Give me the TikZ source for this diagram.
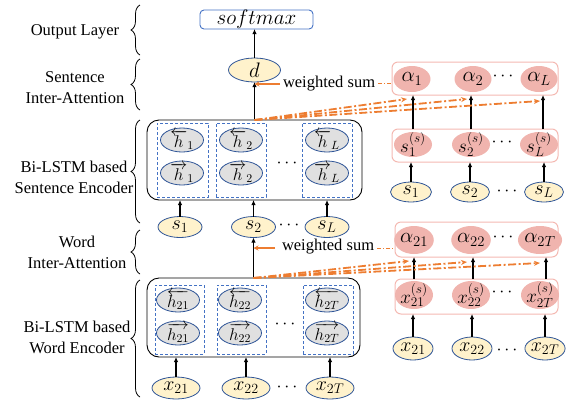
\RequirePackage{fix-cm}
\documentclass[tikz,border=0pt]{standalone}
\usepackage{fontspec}
\setmainfont{Liberation Serif}
\usetikzlibrary{shapes.geometric,arrows.meta,decorations.pathreplacing,calc}

\definecolor{edgeblue}{HTML}{2F5597}
\definecolor{boxblue}{HTML}{4472C4}
\definecolor{inputfill}{HTML}{FFF2CC}
\definecolor{hiddenfill}{HTML}{E0E0E0}
\definecolor{attfill}{HTML}{F0B4AE}
\definecolor{attline}{HTML}{F4B9B2}
\definecolor{attorange}{HTML}{ED7D31}

\begin{document}
\begin{tikzpicture}[x=1pt,y=-1pt,
  every node/.style={inner sep=0pt, outer sep=0pt},
  lbl/.style={align=center, font=\fontsize{16.5}{21}\selectfont},
  inp/.style={ellipse, draw=edgeblue, line width=0.8pt, fill=inputfill,
    minimum width=#1, minimum height=21pt, font=\fontsize{20}{20}\selectfont},
  inp/.default=44pt,
  % grey hidden-state ellipse of fixed size; its label is a separate node
  hid/.style={ellipse, draw=edgeblue, line width=0.8pt, fill=hiddenfill,
    minimum width=43pt, minimum height=24pt},
  hidlabel/.style={font=\fontsize{17}{17}\selectfont},
  att/.style={ellipse, fill=attfill, minimum width=37pt, minimum height=26pt,
    font=\fontsize{21}{21}\selectfont},
  % pink ellipse of fixed size whose (taller) label is laid on top
  attsup/.style={ellipse, fill=attfill, minimum width=38pt, minimum height=#1},
  suplabel/.style={font=\fontsize{19}{19}\selectfont},
  encbox/.style={draw=black, line width=0.9pt, rounded corners=12pt},
  colbox/.style={draw=boxblue, line width=0.8pt, dash pattern=on 3pt off 2pt},
  attbox/.style={draw=attline, line width=1pt, rounded corners=6pt},
  dotsnode/.style={font=\fontsize{18}{18}\selectfont},
  arr/.style={-{Latex[length=5pt,width=4.5pt]}, line width=1.3pt},
  fan/.style={attorange, line width=1.8pt,
    dash pattern=on 8pt off 2.5pt on 2pt off 2.5pt,
    -{Stealth[length=6pt,width=5pt]}},
  wsarr/.style={attorange, line width=1.8pt, -{Stealth[length=5pt,width=5pt]}},
  wsdash/.style={attorange, line width=0.8pt, dash pattern=on 4pt off 2pt on 1pt off 2pt},
  layerbrace/.style={decorate, decoration={brace, amplitude=9pt}, line width=0.8pt},
]
\useasboundingbox (0,0) rectangle (575,408);

% ---------- layer labels and braces ----------
\node[lbl] (l1) at (75,32) {Output Layer};
\node[lbl] (l2) at (75,88) {Sentence\\Inter-Attention};
\node[lbl] (l3) at (74,177) {Bi-LSTM based\\Sentence Encoder};
\node[lbl] (l4) at (77,252) {Word\\Inter-Attention};
\node[lbl] (l5) at (77,337) {Bi-LSTM based\\Word Encoder};
\draw[layerbrace] (140,55) -- (140,5);
\draw[layerbrace] (140,110) -- (140,59);
\draw[layerbrace] (140,223) -- (140,120);
\draw[layerbrace] (140,274) -- (140,230);
\draw[layerbrace] (140,397) -- (140,280);

% ---------- output ----------
\node[draw=boxblue, line width=0.9pt, rounded corners=4pt,
  minimum width=113pt, minimum height=19pt, font=\fontsize{21}{21}\selectfont]
  (sm) at (256.5,19.5) {$softmax$};
\node[inp=52pt, minimum height=24pt, font=\fontsize{21}{21}\selectfont] (d) at (254.5,70) {$d$};

% ---------- sentence encoder ----------
\node[encbox, minimum width=215pt, minimum height=80pt] (senc) at (254.5,160) {};
\node[colbox, minimum width=51pt, minimum height=74pt] (sc1) at (182.5,160) {};
\node[colbox, minimum width=50pt, minimum height=74pt] (sc2) at (241,160) {};
\node[colbox, minimum width=50pt, minimum height=74pt] (scL) at (327,160) {};
\node[hid] (hb1) at (182,140) {};
\node[hid] (hf1) at (182,173) {};
\node[hid] (hb2) at (241,140) {};
\node[hid] (hf2) at (241,173) {};
\node[hid] (hbL) at (327,140) {};
\node[hid] (hfL) at (327,173) {};
\node[hidlabel] (hb1t) at (hb1) {$\overleftarrow{h}_1$};
\node[hidlabel] (hf1t) at (hf1) {$\overrightarrow{h}_1$};
\node[hidlabel] (hb2t) at (hb2) {$\overleftarrow{h}_2$};
\node[hidlabel] (hf2t) at (hf2) {$\overrightarrow{h}_2$};
\node[hidlabel] (hbLt) at (hbL) {$\overleftarrow{h}_L$};
\node[hidlabel] (hfLt) at (hfL) {$\overrightarrow{h}_L$};
\node[dotsnode] (sdots) at (287,163) {$\cdots$};

\node[inp] (s1) at (180,227) {$s_1$};
\node[inp] (s2) at (253.5,227) {$s_2$};
\node[inp] (sL) at (327,227) {$s_L$};
\node[dotsnode] (sidots) at (289,225) {$\cdots$};
\foreach \n in {s1,s2,sL}
  \draw[arr] (\n.north) -- (\n.north |- senc.south);

\draw[arr] (senc.north) -- (d.south);
\draw[arr] (d.north) -- (d.north |- sm.south);

% ---------- word encoder ----------
\node[encbox, minimum width=213pt, minimum height=79pt] (wenc) at (253.5,317.5) {};
\node[colbox, minimum width=49pt, minimum height=69pt] (wc1) at (179.5,319.5) {};
\node[colbox, minimum width=49pt, minimum height=69pt] (wc2) at (241.5,319.5) {};
\node[colbox, minimum width=50pt, minimum height=69pt] (wcT) at (328,319.5) {};
\node[hid] (gb1) at (178,300) {};
\node[hid] (gf1) at (178,333) {};
\node[hid] (gb2) at (240,300) {};
\node[hid] (gf2) at (240,333) {};
\node[hid] (gbT) at (327,300) {};
\node[hid] (gfT) at (327,333) {};
\node[hidlabel] (gb1t) at (gb1) {$\overleftarrow{h_{21}}$};
\node[hidlabel] (gf1t) at (gf1) {$\overrightarrow{h_{21}}$};
\node[hidlabel] (gb2t) at (gb2) {$\overleftarrow{h_{22}}$};
\node[hidlabel] (gf2t) at (gf2) {$\overrightarrow{h_{22}}$};
\node[hidlabel] (gbTt) at (gbT) {$\overleftarrow{h_{2T}}$};
\node[hidlabel] (gfTt) at (gfT) {$\overrightarrow{h_{2T}}$};
\node[dotsnode] (wdots) at (285,324) {$\cdots$};

\node[inp=48pt, minimum height=22pt] (x1) at (176,388) {$x_{21}$};
\node[inp=48pt, minimum height=22pt] (x2) at (246,388) {$x_{22}$};
\node[inp=48pt, minimum height=22pt] (xT) at (330,388) {$x_{2T}$};
\node[dotsnode] (xdots) at (287,387) {$\cdots$};
\foreach \n in {x1,x2,xT}
  \draw[arr] (\n.north) -- (\n.north |- wenc.south);

\draw[arr] (wenc.north -| s2) -- (s2.south);

% ---------- sentence attention (right) ----------
\node[attbox, minimum width=166pt, minimum height=33pt] (abox) at (475,78.5) {};
\node[att] (a1) at (412,79) {$\alpha_1$};
\node[att] (a2) at (473,79) {$\alpha_2$};
\node[att] (aL) at (539,79) {$\alpha_L$};
\node[dotsnode] (adots) at (503,76) {$\cdots$};

\node[attbox, minimum width=166pt, minimum height=33pt] (ssbox) at (475,145.5) {};
\node[attsup=25pt] (ss1) at (413,144.5) {};
\node[attsup=25pt] (ss2) at (471,144.5) {};
\node[attsup=25pt] (ssL) at (539,144.5) {};
\node[suplabel] (ss1t) at (ss1) {$s_1^{(s)}$};
\node[suplabel] (ss2t) at (ss2) {$s_2^{(s)}$};
\node[suplabel] (ssLt) at (ssL) {$s_L^{(s)}$};
\node[dotsnode] (ssdots) at (502,142) {$\cdots$};

\node[inp=41pt, minimum height=20pt] (r1) at (411,192) {$s_1$};
\node[inp=39pt, minimum height=20pt] (r2) at (470,192) {$s_2$};
\node[inp=39pt, minimum height=20pt] (rL) at (544,192) {$s_L$};
\node[dotsnode] (rdots) at (507,191) {$\cdots$};

\foreach \n in {r1,r2,rL}
  \draw[arr] (\n.north) -- (\n.north |- ssbox.south);
\draw[arr] (ss1.north |- ssbox.north) -- (ss1.north |- abox.south);
\draw[arr] (ss2.north |- ssbox.north) -- (ss2.north |- abox.south);
\draw[arr] ($(ssL.north |- ssbox.north)+(4,0)$) -- ($(ssL.north |- abox.south)+(4,0)$);

% ---------- word attention (right) ----------
\node[attbox, minimum width=163pt, minimum height=35pt] (wabox) at (476.5,239.5) {};
\node[att, minimum height=28pt] (w1) at (414,240) {$\alpha_{21}$};
\node[att, minimum height=28pt] (w2) at (471,240) {$\alpha_{22}$};
\node[att, minimum height=28pt] (wT) at (540,240) {$\alpha_{2T}$};
\node[dotsnode] (wadots) at (503,237) {$\cdots$};

\node[attbox, minimum width=163pt, minimum height=35pt] (xsbox) at (476.5,296.5) {};
\node[attsup=28pt] (xs1) at (414,295) {};
\node[attsup=28pt] (xs2) at (471,295) {};
\node[attsup=28pt] (xsT) at (540,295) {};
\node[suplabel] (xs1t) at (xs1) {$x_{21}^{(s)}$};
\node[suplabel] (xs2t) at (xs2) {$x_{22}^{(s)}$};
\node[suplabel] (xsTt) at (xsT) {$x_{2T}^{(s)}$};
\node[dotsnode] (xsdots) at (502,292) {$\cdots$};

\node[inp=40pt, minimum height=23pt] (q1) at (413,348.5) {$x_{21}$};
\node[inp=40pt, minimum height=23pt] (q2) at (472,348.5) {$x_{22}$};
\node[inp=40pt, minimum height=23pt] (qT) at (545,348.5) {$x_{2T}$};
\node[dotsnode] (qdots) at (507,350) {$\cdots$};

\foreach \n in {q1,q2,qT}
  \draw[arr] (\n.north) -- (\n.north |- xsbox.south);
\foreach \n in {q1,q2,qT}
  \draw[arr] ($(\n.north |- xsbox.north)+(1,0)$) -- ($(\n.north |- wabox.south)+(1,0)$);

% ---------- weighted sums ----------
\node[lbl, anchor=west] (ws1) at (283,84) {weighted sum};
\draw[wsarr] ($(ws1.west)+(-3,0)$) -- (ws1.west -| d.south);
\draw[wsdash] ($(ws1.east)+(3,-1)$) -- ($(ws1.east -| abox.west)+(0,-1)$);

\node[lbl, anchor=west] (ws2) at (282,247) {weighted sum};
\draw[wsarr] ($(ws2.west)+(-7,1)$) -- ($(ws2.west -| s2.south)+(0,1)$);
\draw[wsdash] ($(ws2.east)+(3,1)$) -- ($(ws2.east -| wabox.west)+(0,1)$);

% ---------- attention fans ----------
\coordinate (fa1) at (407,99);
\coordinate (fa2) at (467,99);
\coordinate (faL) at (540,101);
\foreach \t in {fa1,fa2,faL}
  \draw[fan] (senc.north) -- (\t);

\coordinate (fw1) at (409,261);
\coordinate (fw2) at (467,262);
\coordinate (fwT) at (540,263);
\foreach \t in {fw1,fw2,fwT}
  \draw[fan] (wenc.north) -- (\t);
\end{tikzpicture}
\end{document}
